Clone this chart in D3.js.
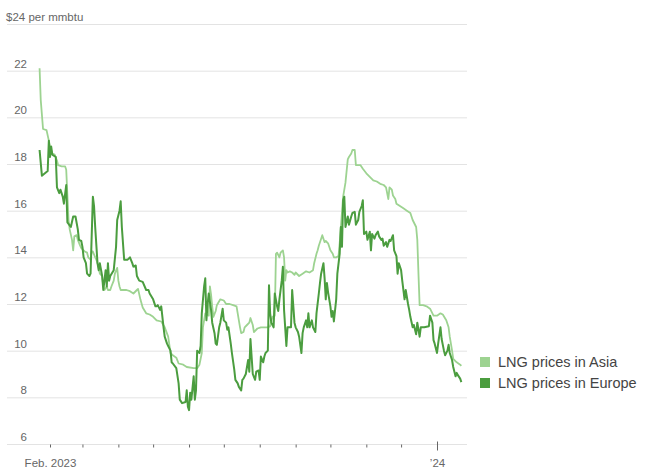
<!DOCTYPE html>
<html><head><meta charset="utf-8">
<script src="https://cdn.jsdelivr.net/npm/d3@7"></script>
<style>
html,body{margin:0;padding:0;background:#fff;}
svg{display:block;font-family:"Liberation Sans",Arial,sans-serif;}
</style></head>
<body><svg id="chart" width="663" height="471"></svg>
<script>
const yTicks = [6, 8, 10, 12, 14, 16, 18, 20, 22, 24];
const unitLabel = "$24 per mmbtu";
const xTickDates = ["2023-02-01","2023-03-01","2023-04-01","2023-05-01","2023-06-01","2023-07-01","2023-08-01","2023-09-01","2023-10-01","2023-11-01","2023-12-01","2024-01-01"];
const xTickLabels = ["Feb. 2023","","","","","","","","","","","\u201924"];
const seriesNames = ["LNG prices in Asia", "LNG prices in Europe"];
const seriesColors = ["#9dd391", "#4b9d3f"];

const asiaDates = ["2023-01-23","2023-01-24","2023-01-26","2023-01-29","2023-01-31","2023-02-01","2023-02-03","2023-02-05","2023-02-07","2023-02-08","2023-02-11","2023-02-14","2023-02-15","2023-02-17","2023-02-18","2023-02-20","2023-02-21","2023-02-22","2023-02-24","2023-02-25","2023-02-27","2023-02-28","2023-03-02","2023-03-03","2023-03-05","2023-03-06","2023-03-08","2023-03-09","2023-03-10","2023-03-12","2023-03-13","2023-03-15","2023-03-16","2023-03-18","2023-03-19","2023-03-20","2023-03-22","2023-03-23","2023-03-25","2023-03-26","2023-03-28","2023-03-29","2023-03-31","2023-04-01","2023-04-02","2023-04-03","2023-04-05","2023-04-08","2023-04-11","2023-04-14","2023-04-17","2023-04-18","2023-04-20","2023-04-22","2023-04-25","2023-04-28","2023-05-01","2023-05-04","2023-05-08","2023-05-11","2023-05-14","2023-05-16","2023-05-18","2023-05-21","2023-05-23","2023-05-27","2023-05-30","2023-06-05","2023-06-08","2023-06-10","2023-06-12","2023-06-13","2023-06-15","2023-06-18","2023-06-19","2023-06-20","2023-06-21","2023-06-22","2023-06-24","2023-06-25","2023-06-28","2023-07-01","2023-07-03","2023-07-06","2023-07-09","2023-07-12","2023-07-13","2023-07-15","2023-07-16","2023-07-18","2023-07-19","2023-07-21","2023-07-23","2023-07-24","2023-07-26","2023-07-27","2023-07-30","2023-08-02","2023-08-05","2023-08-08","2023-08-10","2023-08-12","2023-08-14","2023-08-15","2023-08-16","2023-08-18","2023-08-19","2023-08-21","2023-08-22","2023-08-23","2023-08-24","2023-08-25","2023-08-27","2023-08-29","2023-08-31","2023-09-01","2023-09-04","2023-09-07","2023-09-10","2023-09-13","2023-09-16","2023-09-17","2023-09-19","2023-09-20","2023-09-21","2023-09-23","2023-09-24","2023-09-26","2023-09-27","2023-09-29","2023-09-30","2023-10-01","2023-10-03","2023-10-04","2023-10-06","2023-10-08","2023-10-09","2023-10-12","2023-10-14","2023-10-16","2023-10-17","2023-10-19","2023-10-20","2023-10-22","2023-10-23","2023-10-27","2023-10-29","2023-11-01","2023-11-04","2023-11-07","2023-11-10","2023-11-13","2023-11-16","2023-11-18","2023-11-20","2023-11-21","2023-11-23","2023-11-24","2023-11-26","2023-11-27","2023-11-30","2023-12-03","2023-12-06","2023-12-09","2023-12-11","2023-12-14","2023-12-15","2023-12-16","2023-12-17","2023-12-20","2023-12-23","2023-12-26","2023-12-29","2024-01-01","2024-01-04","2024-01-06","2024-01-09","2024-01-11","2024-01-12","2024-01-14","2024-01-15","2024-01-18","2024-01-21","2024-01-22"];
const asiaValues = [22.1,20.75,19.5,19.45,19.0,18.75,18.45,18.4,18.15,17.95,17.9,17.9,17.75,15.6,15.2,14.75,14.3,14.9,14.95,14.75,14.5,14.4,14.3,14.25,14.2,14.0,13.9,14.25,14.25,14.0,13.9,13.6,13.3,13.2,12.75,12.6,12.75,12.6,12.6,12.75,13.0,13.3,13.55,13.0,12.75,12.6,12.6,12.6,12.55,12.45,12.6,12.65,12.2,11.85,11.6,11.55,11.45,11.3,11.25,11.0,10.6,9.9,9.8,9.7,9.45,9.4,9.3,9.25,9.25,9.4,9.9,11.0,11.6,11.5,12.75,12.4,11.9,11.45,11.7,11.95,12.2,12.15,12.0,12.0,11.95,11.9,11.6,11.0,10.75,10.8,11.0,11.1,11.2,11.4,11.1,10.8,10.95,11.0,11.0,11.0,11.05,11.45,11.5,14.15,14.2,14.0,14.2,14.3,14.0,13.0,13.45,13.35,13.4,13.35,13.25,13.35,13.2,13.3,13.4,13.35,13.45,13.75,14.15,14.3,14.5,14.8,14.95,14.65,14.7,14.6,14.45,14.3,14.15,14.0,14.0,14.05,14.6,16.6,17.2,18.2,18.3,18.45,18.6,18.6,17.95,17.95,17.8,17.6,17.45,17.3,17.25,17.15,17.1,17.0,16.5,17.0,16.9,16.65,16.5,16.3,16.2,16.1,16.0,15.9,15.6,15.3,14.75,13.3,11.95,11.95,11.9,11.8,11.5,11.5,11.6,11.55,11.3,11.0,10.6,10.0,9.65,9.5,9.4,9.35];

const europeDates = ["2023-01-23","2023-01-25","2023-01-30","2023-01-31","2023-02-01","2023-02-02","2023-02-03","2023-02-06","2023-02-07","2023-02-09","2023-02-10","2023-02-12","2023-02-13","2023-02-15","2023-02-16","2023-02-19","2023-02-21","2023-02-23","2023-02-25","2023-02-26","2023-02-28","2023-03-01","2023-03-02","2023-03-04","2023-03-05","2023-03-07","2023-03-08","2023-03-10","2023-03-11","2023-03-12","2023-03-14","2023-03-15","2023-03-16","2023-03-18","2023-03-19","2023-03-20","2023-03-21","2023-03-22","2023-03-23","2023-03-24","2023-03-25","2023-03-28","2023-03-30","2023-03-31","2023-04-02","2023-04-03","2023-04-04","2023-04-06","2023-04-09","2023-04-11","2023-04-13","2023-04-14","2023-04-16","2023-04-17","2023-04-19","2023-04-22","2023-04-25","2023-04-27","2023-04-28","2023-05-01","2023-05-03","2023-05-04","2023-05-05","2023-05-07","2023-05-08","2023-05-10","2023-05-11","2023-05-13","2023-05-14","2023-05-16","2023-05-17","2023-05-18","2023-05-21","2023-05-23","2023-05-24","2023-05-26","2023-05-29","2023-05-30","2023-05-31","2023-06-01","2023-06-02","2023-06-03","2023-06-05","2023-06-06","2023-06-07","2023-06-08","2023-06-10","2023-06-11","2023-06-12","2023-06-14","2023-06-15","2023-06-16","2023-06-17","2023-06-18","2023-06-20","2023-06-21","2023-06-23","2023-06-24","2023-06-25","2023-06-27","2023-06-28","2023-06-30","2023-07-01","2023-07-03","2023-07-04","2023-07-05","2023-07-07","2023-07-08","2023-07-10","2023-07-11","2023-07-13","2023-07-14","2023-07-16","2023-07-17","2023-07-18","2023-07-20","2023-07-22","2023-07-23","2023-07-24","2023-07-26","2023-07-28","2023-07-29","2023-07-31","2023-08-01","2023-08-02","2023-08-04","2023-08-05","2023-08-06","2023-08-08","2023-08-09","2023-08-10","2023-08-11","2023-08-13","2023-08-14","2023-08-16","2023-08-17","2023-08-18","2023-08-20","2023-08-21","2023-08-22","2023-08-24","2023-08-25","2023-08-28","2023-08-29","2023-08-31","2023-09-01","2023-09-03","2023-09-04","2023-09-06","2023-09-07","2023-09-08","2023-09-10","2023-09-11","2023-09-12","2023-09-13","2023-09-15","2023-09-16","2023-09-18","2023-09-19","2023-09-21","2023-09-22","2023-09-23","2023-09-25","2023-09-26","2023-09-27","2023-09-28","2023-09-29","2023-10-01","2023-10-02","2023-10-03","2023-10-04","2023-10-06","2023-10-07","2023-10-09","2023-10-10","2023-10-11","2023-10-12","2023-10-13","2023-10-14","2023-10-16","2023-10-17","2023-10-19","2023-10-20","2023-10-22","2023-10-23","2023-10-25","2023-10-26","2023-10-28","2023-10-29","2023-10-30","2023-11-01","2023-11-02","2023-11-04","2023-11-05","2023-11-06","2023-11-08","2023-11-09","2023-11-11","2023-11-12","2023-11-14","2023-11-15","2023-11-16","2023-11-18","2023-11-19","2023-11-21","2023-11-22","2023-11-24","2023-11-25","2023-11-27","2023-11-28","2023-11-29","2023-12-01","2023-12-02","2023-12-04","2023-12-05","2023-12-07","2023-12-08","2023-12-09","2023-12-11","2023-12-12","2023-12-14","2023-12-15","2023-12-17","2023-12-18","2023-12-21","2023-12-25","2023-12-26","2023-12-28","2023-12-29","2023-12-30","2024-01-01","2024-01-02","2024-01-04","2024-01-05","2024-01-07","2024-01-08","2024-01-10","2024-01-11","2024-01-12","2024-01-14","2024-01-15","2024-01-17","2024-01-18","2024-01-19","2024-01-21","2024-01-22"];
const europeValues = [18.6,17.5,17.7,19.0,18.3,18.75,18.4,18.3,17.0,16.75,16.9,16.6,16.3,17.1,15.5,15.3,15.75,15.75,15.2,14.75,14.7,14.45,14.0,13.75,13.3,13.2,13.3,16.6,16.2,15.3,13.75,13.45,13.75,13.2,12.6,13.0,13.45,12.75,13.75,13.0,13.2,13.45,14.45,15.6,16.0,16.4,15.3,13.9,13.9,14.0,13.75,13.6,13.65,13.2,13.0,12.95,12.6,12.6,12.45,12.2,11.9,11.9,11.95,11.75,11.9,11.0,10.6,10.3,10.2,10.0,9.5,9.45,9.25,8.6,7.9,7.75,7.8,8.3,7.6,7.45,8.2,7.9,8.9,7.9,8.3,10.0,9.9,10.2,11.6,12.75,13.1,11.3,12.0,12.45,11.75,11.2,10.75,10.3,10.25,11.0,11.2,11.8,11.3,11.2,10.9,11.0,10.3,9.9,9.2,8.75,8.6,8.45,8.3,8.75,8.8,9.0,9.6,9.1,10.5,9.0,8.75,9.1,9.15,8.75,9.75,9.5,9.75,9.9,10.0,12.8,11.6,11.2,11.0,12.45,11.9,11.7,12.2,13.0,13.6,11.75,10.2,11.0,11.0,12.6,11.2,11.0,10.8,10.6,9.9,10.75,11.0,11.3,11.0,11.6,11.0,11.3,11.0,10.8,11.6,12.45,12.9,13.3,13.75,13.1,12.2,12.9,12.5,11.9,11.45,11.7,11.25,12.2,13.3,14.15,15.3,14.45,16.45,16.6,15.3,15.75,15.4,15.75,15.9,15.95,15.4,15.6,15.95,16.2,16.45,15.0,15.1,14.75,15.1,14.3,15.0,14.8,14.95,15.1,14.9,14.75,14.8,14.5,14.65,14.45,14.75,14.7,14.95,14.3,14.05,13.3,13.75,13.45,13.0,12.2,12.6,12.0,11.75,11.45,11.0,11.1,10.7,11.2,10.6,11.0,11.0,11.05,11.5,11.2,10.45,10.3,9.9,10.3,11.0,10.5,10.0,9.8,10.0,10.25,9.9,9.6,9.3,8.9,9.05,8.95,8.8,8.65];

const parse = d3.utcParse("%Y-%m-%d");
const svg = d3.select("#chart");

const x = d3.scaleUtc()
  .domain([parse(xTickDates[0]), parse(xTickDates[xTickDates.length - 1])])
  .range([50, 437]);
const y = d3.scaleLinear().domain([6, 24]).range([444, 24]);
const gridLeft = 7, gridRight = 467;
const labelFont = "Liberation Sans, Arial, sans-serif";

// gridlines
svg.append("g").selectAll("line").data(yTicks).join("line")
  .attr("x1", gridLeft).attr("x2", gridRight)
  .attr("y1", d => y(d) + 0.5).attr("y2", d => y(d) + 0.5)
  .attr("stroke", "#e3e3e3").attr("stroke-width", 1);

// y labels
svg.append("g").selectAll("text").data(yTicks.filter(d => d !== 24)).join("text")
  .attr("x", 27).attr("y", d => y(d) - 3)
  .attr("text-anchor", "end")
  .attr("font-size", 11.5).attr("fill", "#666")
  .text(d => d);
svg.append("text").attr("x", 6).attr("y", y(24) - 3)
  .attr("font-size", 11.5).attr("fill", "#666").text(unitLabel);

// x axis
const xAxis = d3.axisBottom(x)
  .tickValues(xTickDates.map(parse))
  .tickFormat((d, i) => xTickLabels[i])
  .tickSizeOuter(0);
const gx = svg.append("g").attr("transform", `translate(0,${y(6) + 0.5})`).call(xAxis);
gx.select(".domain").remove();
gx.selectAll(".tick line").attr("stroke", "#666")
  .attr("y1", (d, i) => i === xTickLabels.length - 1 ? -3 : 0)
  .attr("y2", (d, i) => i === xTickLabels.length - 1 ? 6 : 3);
gx.selectAll(".tick text").attr("font-size", 11.5).attr("fill", "#666")
  .attr("font-family", labelFont).attr("dy", 0).attr("y", 22);

// lines
const line = d3.line().x(d => x(d[0])).y(d => y(d[1]));
const asia = asiaDates.map((d, i) => [parse(d), asiaValues[i]]);
const europe = europeDates.map((d, i) => [parse(d), europeValues[i]]);
svg.append("path").datum(asia).attr("d", line)
  .attr("fill", "none").attr("stroke", seriesColors[0]).attr("stroke-width", 1.8)
  .attr("stroke-linejoin", "round");
svg.append("path").datum(europe).attr("d", line)
  .attr("fill", "none").attr("stroke", seriesColors[1]).attr("stroke-width", 2)
  .attr("stroke-linejoin", "round");

// legend
const lg = svg.append("g").attr("transform", "translate(480,355)");
seriesNames.forEach((name, i) => {
  lg.append("rect").attr("x", 0).attr("y", i * 21 + 2).attr("width", 10).attr("height", 10)
    .attr("fill", seriesColors[i]);
  lg.append("text").attr("x", 18).attr("y", i * 21 + 12)
    .attr("font-size", 14.5).attr("fill", "#444").text(name);
});
</script></body></html>
